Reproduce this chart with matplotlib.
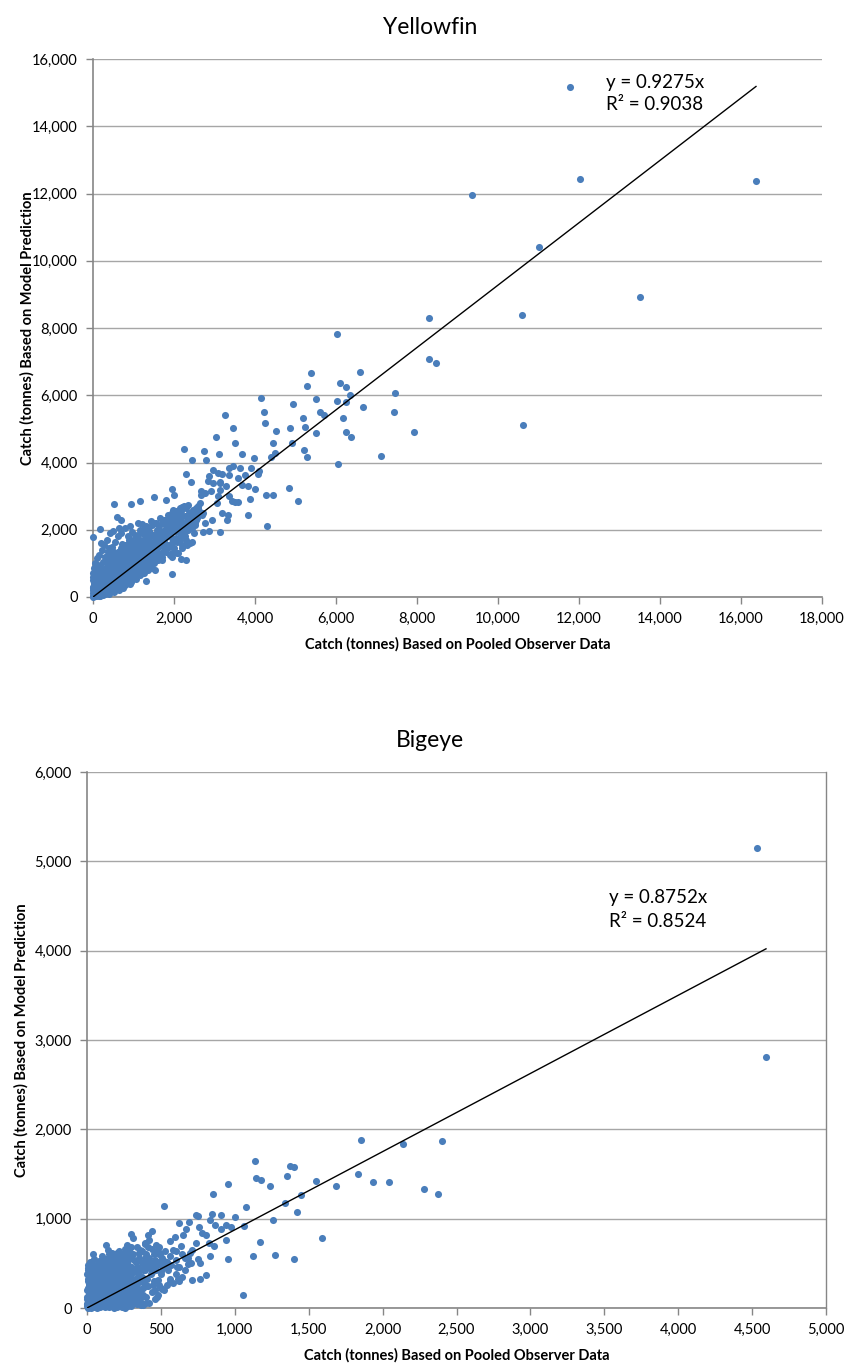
import matplotlib
matplotlib.use("Agg")
import matplotlib.pyplot as plt
from matplotlib.ticker import FuncFormatter, MultipleLocator
import numpy as np

# ---------------- Yellowfin data (observer catch, model prediction) ----------------
yf_outlier_x = [11780, 12025, 16370, 9358, 11012, 13506]
yf_outlier_y = [15170, 12440, 12380, 11964, 10417, 8929]

yf_high_x = [8296, 10585, 6025, 8296, 8461, 5383, 6593, 5276, 6091, 6255, 6338, 7449, 5498, 6016,
             6239, 6675, 5597, 5712, 7440, 5193, 6173, 5226, 5498, 6247, 6362, 7926, 10625, 5202,
             5292, 7111]
yf_high_y = [8304, 8372, 7827, 7074, 6954, 6667, 6687, 6270, 6369, 6260, 6022, 6071, 5883, 5843,
             5794, 5655, 5516, 5407, 5516, 5317, 5327, 5069, 4871, 4921, 4762, 4901, 5129, 4375,
             4176, 4206]

yf_mid_x = [4149, 4928, 4215, 3264, 4256, 3452, 4510, 4862, 3042, 4436, 4912, 3510, 2247, 2747,
            3116, 3673, 4485, 4395, 2434, 2788, 3977, 6060, 3468, 3354, 3633, 3895, 2960, 4108,
            3075, 4075, 2296, 2870, 3173, 3370, 3755, 3591, 2411, 2837, 3132, 3673, 3829, 3296,
            4838, 1960, 2657, 2911, 3132, 4002, 2673, 1993, 3083, 3346, 4280, 4444, 1517, 1796,
            3887, 1156, 943, 508, 3058, 3444, 3575, 5051, 3829, 4289, 582, 689, 902, 1123, 1222,
            180, 0, 205, 2714, 2862, 3141, 1960, 1312, 2304, 2165, 1960, 2083,
            395, 461, 708, 872, 955, 1078, 1325, 1366, 1514, 1572, 1696, 1819, 1943, 1984, 2189,
            2436, 2600, 2724, 2354, 2066, 1860, 2272, 2519, 2189, 2436, 2313, 2189, 1958, 1531,
            1696, 1531, 2765, 2930, 2765, 3136, 3300, 3177, 3341, 3506, 2971]
yf_mid_y = [5932, 5734, 5515, 5406, 5178, 5019, 4940, 5019, 4771, 4573, 4583, 4583, 4404, 4345,
            4256, 4256, 4276, 4176, 4087, 4067, 4127, 3968, 3909, 3839, 3829, 3849, 3780, 3750,
            3690, 3670, 3660, 3591, 3660, 3640, 3640, 3541, 3422, 3442, 3432, 3343, 3313, 3293,
            3254, 3214, 3154, 3154, 3174, 3204, 3045, 3045, 2996, 3016, 3025, 3045, 2986, 2897,
            2926, 2867, 2778, 2758, 2797, 2847, 2837, 2857, 2430, 2123, 2371, 2282, 2103, 2202, 2163,
            2024, 1786, 1617, 1934, 1954, 1925, 675, 486, 1091, 1141, 1190, 1309,
            1449, 1399, 1577, 1399, 1944, 1746, 1895, 1647, 2193, 1895, 1796, 2292, 2391, 2589, 2689,
            2540, 2639, 2490, 2292, 2193, 2044, 2044, 2143, 1845, 1647, 1548, 1449, 1300, 804,
            1101, 1250, 2193, 2292, 3085, 3383, 2292, 2490, 2440, 2837, 3383]

yf_cluster_x = [5, 10, 15, 20, 25, 30, 35, 40, 45, 50, 55, 60, 65, 70, 75, 80, 85, 90, 95, 100,
                110, 115, 120, 125, 130, 135, 140, 150, 155, 160, 170, 175, 180, 190, 195, 200, 210,
                215, 220, 230, 240, 245, 250, 260, 270, 280, 290, 300, 0, 0, 0, 10, 20, 30, 40, 60,
                80, 100, 5, 15, 50, 120, 150, 200, 250, 300,
                310, 320, 330, 340, 350, 360, 370, 380, 390, 400, 410, 420, 430, 440, 450, 460, 470,
                480, 490, 500, 510, 520, 530, 540, 550, 560, 570, 580, 590, 600, 610, 620, 630, 640,
                650, 660, 670, 680, 690, 700, 710, 720, 730, 740, 750, 760, 770, 780, 790, 800,
                350, 420, 480, 550, 620, 700, 760, 330, 400, 590, 450, 520, 600, 680, 750, 800,
                820, 840, 860, 880, 900, 920, 940, 960, 980, 1000, 1020, 1040, 1060, 1080, 1100,
                1120, 1140, 1160, 1180, 1200, 1220, 1240, 1260, 1280, 1300, 1320, 1340, 1360, 1380,
                1400, 1420, 1440, 1460, 1480, 1500,
                850, 900, 950, 1000, 1050, 1100, 1150, 1200, 1250, 1300, 1350, 1400, 1450,
                870, 950, 1000, 1050, 1100, 1150, 1200, 1250, 1300, 1350, 1400, 1450, 1500,
                1520, 1560, 1600, 1640, 1680, 1720, 1760, 1800, 1840, 1880, 1920, 1960, 2000, 2040,
                2080, 2120, 2160, 2200, 2240, 2280, 2320, 2360, 2400, 2440, 2480, 2520, 2560, 2600,
                1550, 1650, 1750, 1850, 1950, 2050, 2150, 2250, 2350,
                1600, 1700, 1800, 1900, 2000, 2100, 2200, 2300, 2400, 2500,
                60, 140, 230, 330, 430, 530, 640, 740, 860, 980, 1120, 1260, 1380, 20, 90, 180, 270,
                360, 460, 560, 660, 780, 900, 1030, 1170, 1310, 1430]
yf_cluster_y = [10, 40, 80, 20, 150, 60, 250, 120, 30, 200, 350, 90, 450, 160, 280, 50, 380, 220,
                520, 130, 300, 70, 420, 190, 600, 260, 110, 350, 480, 210, 40, 300, 560, 150, 400,
                250, 650, 90, 330, 470, 190, 560, 280, 420, 120, 360, 700, 240, 720, 500, 300, 600,
                420, 520, 680, 580, 760, 650, 200, 350, 450, 500, 20, 100, 50, 80,
                480, 360, 600, 200, 750, 420, 540, 300, 880, 460, 620, 180, 700, 380, 540, 980, 280,
                640, 450, 800, 560, 350, 1100, 680, 470, 900, 260, 600, 760, 420, 1000, 580, 700,
                340, 860, 520, 1200, 640, 760, 460, 920, 580, 1050, 700, 380, 820, 620, 1300, 720,
                540, 1000, 1150, 1250, 1300, 1350, 1450, 1550, 850, 1050, 1150, 200, 150, 250, 300,
                260, 350,
                900, 680, 1100, 800, 1000, 620, 1250, 860, 1400, 950, 720, 1150, 880, 1300, 1000,
                780, 1500, 1100, 900, 1250, 1050, 1700, 1150, 950, 1400, 1200, 1050, 1600, 1300,
                1150, 1800, 1350, 1000, 1500, 1250,
                1450, 1600, 1700, 1550, 1800, 1650, 1900, 1550, 2000, 1750, 2050, 1900, 2150,
                500, 450, 600, 550, 700, 650, 800, 700, 850, 800, 950, 850, 1000,
                1650, 1400, 1800, 1550, 1300, 1900, 1650, 2100, 1800, 1500, 2000, 1750, 2250, 1950,
                1650, 2150, 1900, 2400, 2050, 1800, 2250, 2500, 2100, 2350, 2600, 2200, 2450, 2700,
                2200, 2350, 2300, 2450, 2500, 2550, 2650, 2700, 2750,
                1100, 1200, 1350, 1250, 1450, 1300, 1550, 1700, 1600, 1900,
                320, 480, 640, 760, 900, 1080, 1200, 1350, 1480, 1600, 1750, 1880, 1950, 350, 520,
                700, 830, 960, 1150, 1250, 1380, 1560, 1700, 1850, 2000, 2100, 2250]

yf_dense_x = [8, 12, 18, 22, 28, 33, 38, 42, 48, 52, 58, 62, 68, 72, 78, 82, 88, 92, 98, 102, 108,
              112, 118, 122, 128, 132, 138, 142, 148, 152, 158, 162, 168, 172, 178, 182, 188, 192,
              198, 202, 208, 212, 218, 222, 228, 232, 238, 242, 248, 252, 258, 262, 268, 272, 278,
              282, 288, 292, 298, 305, 315, 325, 335, 345, 355, 365, 375, 385, 395, 405, 415, 425,
              435, 445, 455, 465, 475, 485, 495,
              505, 515, 525, 535, 545, 555, 565, 575, 585, 595, 605, 615, 625, 635, 645, 655, 665,
              675, 685, 695, 705, 715, 725, 735, 745, 755, 765, 775, 785, 795, 805, 815, 825, 835,
              845, 855, 865, 875, 885, 895, 905, 915, 925, 935, 945, 955, 965, 975, 985, 995, 1010,
              1030, 1050, 1070, 1090, 1110, 1130, 1150, 1170, 1190, 1210, 1230, 1250, 1270, 1290,
              1310, 1330, 1350, 1370, 1390, 1410, 1430, 1450, 1470, 1490,
              300, 380, 460, 540, 620, 700, 780, 860, 240, 180, 120, 60, 30, 90, 160, 220, 280, 340,
              410, 500, 640,
              400, 480, 560, 640, 720, 820, 920, 1050, 1150, 1250, 1350, 1450, 1550, 1650, 1750,
              1850, 1950, 2050, 2150, 2250, 2350, 2450, 2550,
              1510, 1530, 1570, 1590, 1610, 1630, 1660, 1690, 1710, 1740, 1770, 1790, 1820, 1870,
              1890, 1910, 1940, 1970, 1990, 2020, 2060, 2090, 2110, 2140, 2170, 2210, 2260, 2290,
              2330, 2380, 2420, 2460, 2500, 2540, 2580, 2620, 2650, 2700]
yf_dense_y = [120, 260, 180, 330, 90, 410, 170, 300, 560, 110, 230, 380, 40, 320, 200, 480, 130,
              270, 410, 60, 200, 350, 640, 100, 280, 450, 170, 560, 250, 80, 390, 310, 520, 190,
              440, 120, 350, 600, 260, 170, 420, 530, 240, 360, 160, 620, 300, 420, 200, 540, 340,
              140, 480, 260, 600, 220, 400, 520, 320, 140, 660, 280, 440, 360, 580, 240, 680, 480,
              340, 780, 520, 420, 620, 300, 760, 480, 860, 560, 380,
              660, 940, 500, 760, 600, 820, 440, 980, 680, 540, 860, 720, 1080, 500, 780, 960, 620,
              880, 540, 1100, 800, 680, 900, 560, 1000, 760, 1150, 880, 640, 960, 780, 1150, 620,
              1000, 820, 1250, 920, 700, 1080, 860, 1300, 980, 780, 1100, 900, 1350, 1050, 820,
              1200, 1000, 1450, 1100, 900, 1250, 1050, 1400, 1200, 1000, 1350, 1100, 1500, 1300,
              1100, 1450, 1250, 1600, 1350, 1150, 1500, 1350, 1650, 1450, 1250, 1650, 1450,
              1200, 1350, 1500, 1650, 1800, 1900, 2050, 1800, 1050, 900, 950, 1000, 850, 1150, 1250,
              1400, 1550, 1700, 1900, 1950, 2050,
              100, 250, 300, 200, 350, 450, 400, 650, 800, 900, 950, 1100, 1150, 1250, 1450, 1550,
              1600, 1750, 1700, 1900, 2000, 2050, 2300,
              1850, 1450, 2000, 1700, 1500, 2100, 1850, 1600, 2200, 1950, 1750, 2300, 2000, 2200,
              1900, 2400, 2150, 1950, 2500, 2300, 2100, 2450, 2000, 2350, 2550, 2200, 2400, 2650,
              2050, 2350, 2500, 2200, 2450, 2650, 2350, 2550, 2800, 2450]

# ---------------- Bigeye data ----------------
be_outlier_x = [4533, 4594, 1854, 2141, 2405, 1139, 1372, 1403, 1142, 1174, 1356, 1550, 1831,
                1936, 2046, 1685, 2281, 2373, 952, 1241, 855, 1451, 522, 1337, 1421, 1078, 1256,
                999, 1064, 1588, 1173, 1274, 1398, 1123, 957, 1056]
be_outlier_y = [5149, 2810, 1877, 1832, 1873, 1642, 1593, 1575, 1452, 1437, 1481, 1422, 1496,
                1414, 1410, 1366, 1329, 1273, 1385, 1362, 1276, 1265, 1145, 1175, 1071, 1127, 985,
                1019, 921, 787, 739, 593, 552, 582, 552, 146]

be_mid_x = [740, 752, 848, 909, 835, 625, 688, 864, 943, 972, 907, 673, 756, 776, 803, 941, 826,
            857, 740, 650, 596, 560, 639, 708, 605, 664, 752, 835, 684, 706, 763, 612, 808, 763,
            708, 645, 614, 564, 505, 474, 368, 368, 255, 296, 165, 228, 41, 97, 440, 413, 390,
            356, 488, 497, 470, 519, 539, 461, 501, 483, 458, 447]
be_mid_y = [1037, 1034, 1056, 1041, 985, 952, 959, 933, 929, 903, 881, 884, 903, 843, 814, 765,
            724, 697, 731, 817, 791, 747, 694, 649, 638, 556, 549, 582, 489, 500, 500, 456, 366,
            328, 310, 350, 328, 291, 216, 120, 120, 34, 0, 828, 601, 585, 470, 437, 865, 814, 731,
            649, 686, 604, 630, 529, 512, 481, 418, 313, 201, 261]

be_cluster_x = [5, 10, 15, 20, 25, 30, 35, 40, 45, 50, 55, 60, 65, 70, 75, 80, 85, 90, 95, 100,
                105, 110, 115, 120, 125, 130, 135, 140, 145, 150, 155, 160, 165, 170, 175, 180, 185,
                190, 195, 200, 205, 210, 215, 220, 225, 230, 235, 240, 245, 250, 255, 260, 265, 270,
                275, 280, 285, 290, 295, 300, 305, 310, 315, 320, 325, 330, 335, 340, 345, 350, 355,
                360, 365, 370, 375, 380, 385, 390, 395, 400, 405, 410, 415, 420, 425, 430, 440, 450,
                460, 470, 480, 490, 500,
                0, 0, 0, 5, 10, 15, 20, 30, 40, 50, 60, 70, 80, 90, 100, 110, 120, 130, 140, 150,
                160, 170, 180, 190, 200, 210, 220, 230, 240, 250, 260, 270, 280, 290, 300, 320, 340,
                360, 380, 400, 0, 0, 10, 20, 30, 40, 50, 60, 70, 80, 90, 100, 120, 140, 160, 180,
                200, 220, 240, 260, 280, 300, 350, 190, 230, 270, 310, 130, 50, 25, 5,
                15, 35, 55, 75, 95, 115, 135, 155, 175, 195, 215, 235, 255, 275, 295, 315, 335, 355,
                12, 28, 48, 68, 88, 108, 128, 148, 168, 188, 208, 228, 248, 268, 288]
be_cluster_y = [10, 60, 150, 30, 250, 100, 380, 200, 50, 300, 150, 420, 80, 240, 350, 20, 180,
                500, 290, 120, 400, 60, 230, 330, 160, 450, 40, 280, 200, 380, 100, 520, 250, 320,
                150, 430, 70, 300, 220, 480, 160, 360, 260, 560, 110, 420, 300, 200, 500, 340, 140,
                620, 270, 400, 220, 540, 320, 180, 460, 380, 260, 600, 150, 430, 330, 520, 230, 680,
                380, 290, 560, 440, 200, 640, 350, 500, 280, 720, 420, 600, 330, 520, 250, 760, 450,
                380, 660, 300, 540, 420, 640, 260, 480,
                380, 200, 100, 300, 450, 250, 520, 350, 600, 180, 260, 480, 380, 130, 580, 350, 490,
                260, 650, 230, 80, 560, 200, 90, 620, 120, 280, 180, 380, 90, 230, 160, 120, 330,
                200, 250, 180, 300, 220, 250, 20, 50, 5, 100, 0, 10, 60, 30, 140, 90, 40, 20, 10,
                50, 20, 30, 50, 60, 80, 100, 60, 100, 120, 600, 480, 700, 780, 700, 480, 450, 480,
                40, 120, 210, 90, 170, 260, 110, 190, 60, 140, 90, 170, 60, 130, 90, 160, 120, 80,
                20, 70, 110, 30, 60, 140, 90, 40, 120, 70, 30, 100, 50, 30, 80]

be_dense_x = [2, 3, 4, 6, 8, 8, 12, 12, 14, 16, 18, 22, 22, 24, 26, 28, 32, 32, 34, 36, 38, 42, 42,
              44, 46, 48, 52, 54, 56, 58, 62, 64, 66, 68, 72, 74, 76, 78, 82, 84, 86, 88, 92, 94,
              96, 98, 102, 104, 106, 108, 112, 114, 116, 118, 122, 124, 126, 128, 132, 134, 136,
              138, 142, 144, 146, 148, 152, 154, 156, 158, 162, 164, 166, 168, 172, 174, 176, 178,
              182, 184, 186, 188, 192, 194, 196, 198, 202, 204, 206, 208, 212, 214, 216, 218, 222,
              224, 226, 228, 232, 234, 236, 238, 242, 244, 246, 248, 252, 254, 256, 258, 262, 264,
              266, 268, 272, 274, 276, 278, 282, 284, 286, 288, 292, 294, 296, 298,
              310, 320, 330, 340, 350, 360, 370, 380, 390, 400, 410, 420, 430, 440, 450, 460, 470,
              480, 490, 500, 510, 520, 530, 540, 550, 560, 570, 580, 600, 620, 640, 660, 680, 700,
              300, 320, 340, 360, 380, 400, 420, 440, 460, 480, 500, 520, 540, 560, 580, 600, 620,
              380, 340, 360, 400, 280, 260, 240, 220, 200, 180, 160, 150, 130, 110, 90, 70, 60]
be_dense_y = [40, 120, 220, 320, 420, 80, 180, 270, 370, 30, 490, 130, 210, 310, 60, 400, 170,
              260, 470, 80, 330, 130, 230, 550, 380, 20, 200, 290, 100, 470, 170, 350, 30, 260,
              410, 120, 200, 530, 300, 70, 390, 220, 160, 440, 340, 60, 250, 490, 170, 300, 110,
              420, 520, 200, 80, 370, 260, 550, 150, 330, 220, 470, 100, 390, 300, 600, 180, 440,
              250, 130, 340, 480, 200, 620, 280, 400, 100, 540, 330, 240, 460, 160, 380, 580, 280,
              140, 420, 320, 540, 220, 460, 640, 340, 180, 400, 260, 500, 140, 360, 600, 240, 450,
              320, 160, 560, 400, 260, 480, 660, 200, 360, 540, 300, 440, 600, 180, 380, 480, 280,
              640, 420, 240, 560, 340, 680, 460,
              400, 540, 300, 460, 620, 360, 500, 420, 560, 460, 680, 560, 500, 400, 600, 460, 700,
              520, 600, 380, 560, 460, 640, 500, 420, 580, 480, 650, 540, 460, 600, 420, 560, 620,
              20, 60, 40, 80, 30, 120, 60, 180, 100, 150, 220, 200, 260, 330, 280, 380, 300,
              140, 100, 160, 60, 20, 30, 10, 20, 10, 0, 40, 10, 20, 40, 10, 5, 10]

# Trendlines (linear through origin) and labels
yf_slope, yf_r2 = 0.9275, 0.9038
be_slope, be_r2 = 0.8752, 0.8524
titles = ["Yellowfin", "Bigeye"]
xlabel = "Catch (tonnes) Based on Pooled Observer Data"
ylabel = "Catch (tonnes) Based on Model Prediction"

plt.rcParams['font.family'] = ['Lato', 'DejaVu Sans']

W, H = 849, 1365
fig = plt.figure(figsize=(W / 100, H / 100), dpi=100)

dot_color = '#4A7EBB'
grid_color = '#A6A6A6'
spine_color = '#868686'
fmt = FuncFormatter(lambda v, p: f"{int(v):,}")


def make_panel(rect, xs, ys, slope, r2, xmax, xstep, ymax, ystep, title, title_x,
               eq_x, eq_y1, eq_y2, right_spine, ylabelpad):
    ax = fig.add_axes(rect)
    x = np.array(xs, dtype=float)
    y = np.array(ys, dtype=float)
    ax.set_xlim(0, xmax)
    ax.set_ylim(0, ymax)
    ax.xaxis.set_major_locator(MultipleLocator(xstep))
    ax.yaxis.set_major_locator(MultipleLocator(ystep))
    ax.xaxis.set_major_formatter(fmt)
    ax.yaxis.set_major_formatter(fmt)
    ax.grid(axis='y', color=grid_color, lw=1.0, zorder=0)
    ax.set_axisbelow(True)
    ax.scatter(x, y, s=26, color=dot_color, linewidths=0, zorder=3, clip_on=False)
    xl = np.array([0, x.max()])
    ax.plot(xl, slope * xl, color='black', lw=1.0, zorder=4)
    ax.text(eq_x, eq_y1, f"y = {slope}x", fontsize=13.5, ha='left', va='center', zorder=5)
    ax.text(eq_x, eq_y2, f"R\u00b2 = {r2}", fontsize=13.5, ha='left', va='center', zorder=5)
    for s in ['left', 'bottom']:
        ax.spines[s].set_color(spine_color)
        ax.spines[s].set_linewidth(1.2)
    ax.spines['top'].set_visible(False)
    if right_spine:
        ax.spines['right'].set_color(spine_color)
        ax.spines['right'].set_linewidth(1.0)
    else:
        ax.spines['right'].set_visible(False)
    ax.tick_params(axis='both', direction='out', length=5, width=1, color=spine_color,
                   labelsize=10.5, labelcolor='black')
    ax.tick_params(axis='x', pad=6)
    ax.tick_params(axis='y', pad=6)
    ax.set_xlabel(xlabel, fontsize=10.5, fontweight='bold', labelpad=8)
    ax.set_ylabel(ylabel, fontsize=10.5, fontweight='bold', labelpad=ylabelpad)
    ax.set_title(title, fontsize=16.5, pad=18, x=title_x)
    return ax


ax1 = make_panel([93 / W, 1 - 597 / H, (822 - 93) / W, (597 - 59) / H],
                 yf_outlier_x + yf_high_x + yf_mid_x + yf_cluster_x + yf_dense_x,
                 yf_outlier_y + yf_high_y + yf_mid_y + yf_cluster_y + yf_dense_y,
                 yf_slope, yf_r2, 18000, 2000, 16000, 2000, titles[0], 0.462,
                 12667, 15306, 14643, False, -2)

ax2 = make_panel([87 / W, 1 - 1308 / H, (826 - 87) / W, (1308 - 772) / H],
                 be_outlier_x + be_mid_x + be_cluster_x + be_dense_x,
                 be_outlier_y + be_mid_y + be_cluster_y + be_dense_y,
                 be_slope, be_r2, 5000, 500, 6000, 1000, titles[1], 0.464,
                 3534, 4590, 4324, True, 4)

fig.savefig("out.png", dpi=100)
